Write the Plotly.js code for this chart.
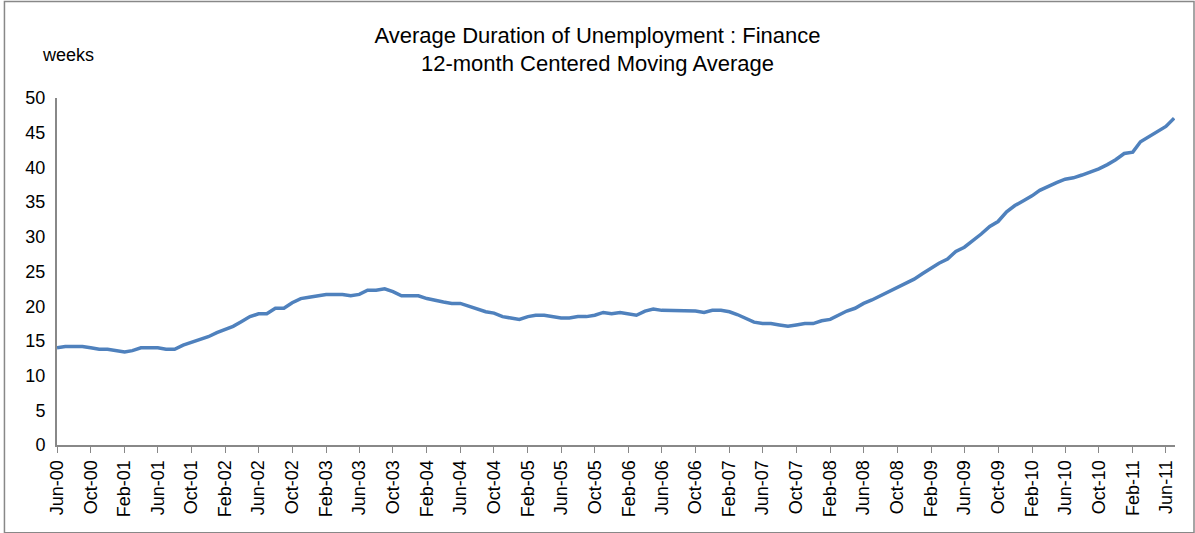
<!DOCTYPE html>
<html>
<head>
<meta charset="utf-8">
<script src="https://cdn.plot.ly/plotly-3.0.1.min.js"></script>
<style>
  body { margin: 0; background: #fff; }
  #graph { width: 1195px; height: 533px; }
</style>
</head>
<body>
<div id="graph"></div>
<script>
// Monthly values, Jun-00 through Jul-11 (weeks)
let startMonth = "2000-06-01";
let weeks = [
  14, 14.2, 14.2, 14.2, 14, 13.8, 13.8, 13.6, 13.4, 13.6, 14, 14, 14, 13.8, 13.8,
  14.4, 14.8, 15.2, 15.6, 16.2, 16.7, 17.1, 17.8, 18.5, 18.9, 18.9, 19.7, 19.7,
  20.5, 21.1, 21.3, 21.5, 21.7, 21.7, 21.7, 21.5, 21.7, 22.3, 22.3, 22.5, 22.1,
  21.5, 21.5, 21.5, 21.1, 20.8, 20.6, 20.4, 20.4, 20, 19.6, 19.2, 19, 18.5, 18.3,
  18.1, 18.5, 18.7, 18.7, 18.5, 18.3, 18.3, 18.5, 18.5, 18.7, 19.1, 18.9, 19.1,
  18.9, 18.7, 19.3, 19.6, 19.4, 19.4, 19.4, 19.4, 19.3, 19.1, 19.4, 19.4, 19.2,
  18.8, 18.2, 17.7, 17.5, 17.5, 17.3, 17.1, 17.3, 17.5, 17.5, 17.9, 18.1, 18.7,
  19.3, 19.7, 20.4, 20.9, 21.5, 22.1, 22.7, 23.3, 23.9, 24.7, 25.5, 26.2, 26.8,
  27.9, 28.5, 29.4, 30.4, 31.5, 32.2, 33.6, 34.5, 35.2, 35.9, 36.7, 37.3, 37.8,
  38.3, 38.5, 38.9, 39.3, 39.8, 40.4, 41.1, 42.0, 42.2, 43.7, 44.4, 45.1, 45.9, 47.1
];

// Build month dates for each value
let months = weeks.map(function (v, i) {
  let d = new Date(2000, 5 + i, 1);
  let m = String(d.getMonth() + 1).padStart(2, "0");
  return d.getFullYear() + "-" + m + "-01";
});

let font = { family: "Liberation Sans, Arial, sans-serif", size: 18, color: "#000" };

Plotly.newPlot("graph", [{
  x: months,
  y: weeks,
  mode: "lines",
  line: { color: "#4f81bd", width: 3.5 },
  hoverinfo: "x+y"
}], {
  width: 1195,
  height: 533,
  margin: { l: 57, r: 20, t: 98, b: 88, pad: 0 },
  paper_bgcolor: "#fff",
  plot_bgcolor: "#fff",
  showlegend: false,
  font: font,
  title: {
    text: "Average Duration of Unemployment : Finance<br>12-month Centered Moving Average",
    font: { family: font.family, size: 22, color: "#000" },
    x: 0.5, xanchor: "center", y: 0.92, yanchor: "top"
  },
  xaxis: {
    type: "date",
    range: ["2000-06-01", "2011-07-04"],
    tick0: startMonth,
    dtick: "M4",
    tickformat: "%b-%y",
    tickangle: -90,
    ticks: "outside",
    ticklen: 6,
    tickcolor: "#888",
    showline: true,
    linecolor: "#888",
    linewidth: 2,
    showgrid: false,
    zeroline: false,
    tickfont: font
  },
  yaxis: {
    range: [0, 50],
    dtick: 5,
    showline: true,
    linecolor: "#888",
    linewidth: 2,
    ticks: "",
    showgrid: false,
    zeroline: false,
    tickfont: font,
    ticklabelstandoff: 6
  },
  annotations: [{
    text: "weeks", xref: "paper", yref: "paper",
    x: -0.015, y: 1.125, xanchor: "left", yanchor: "middle",
    showarrow: false, font: font
  }],
  shapes: [{
    type: "rect", xref: "paper", yref: "paper",
    x0: -0.047, x1: 1.017, y0: -0.253, y1: 1.278,
    line: { color: "#888", width: 1.5 }
  }]
}, { displayModeBar: false });
</script>
</body>
</html>
